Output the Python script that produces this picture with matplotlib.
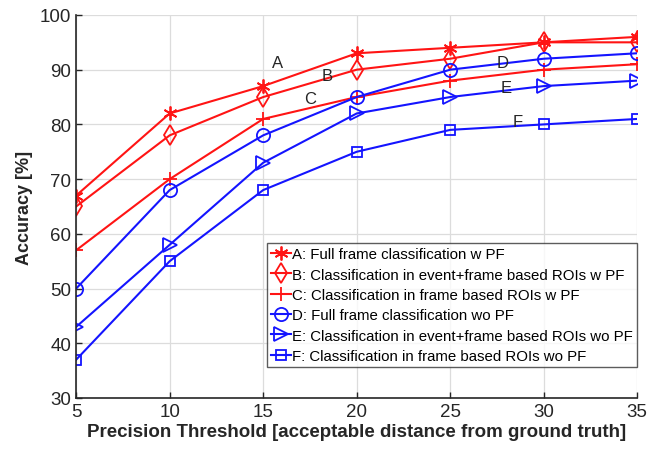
import matplotlib
matplotlib.use("Agg")
import matplotlib.pyplot as plt

plt.rcParams["font.family"] = ["Liberation Sans", "DejaVu Sans"]

THRESHOLDS = [5, 10, 15, 20, 25, 30, 35]
ACC_A = [67, 82, 87, 93, 94, 95, 96]
ACC_B = [65, 78, 85, 90, 92, 95, 95]
ACC_C = [57, 70, 81, 85, 88, 90, 91]
ACC_D = [50, 68, 78, 85, 90, 92, 93]
ACC_E = [43, 58, 73, 82, 85, 87, 88]
ACC_F = [37, 55, 68, 75, 79, 80, 81]

SERIES_LABELS = [
    "A: Full frame classification w PF",
    "B: Classification in event+frame based ROIs w PF",
    "C: Classification in frame based ROIs w PF",
    "D: Full frame classification wo PF",
    "E: Classification in event+frame based ROIs wo PF",
    "F: Classification in frame based ROIs wo PF",
]
TAGS = ["A", "B", "C", "D", "E", "F"]
TAG_POS = [(15.75, 91.4), (18.4, 88.9), (17.5, 84.7), (27.8, 91.4), (28.0, 86.7), (28.6, 80.5)]

RED = "#ff1414"
BLUE = "#1414ff"
TEXT = "#262626"
# colour, marker, marker size
STYLES = [
    (RED, (6, 2, 0), 10),
    (RED, "d", 10),
    (RED, "+", 10),
    (BLUE, "o", 9.5),
    (BLUE, ">", 9.5),
    (BLUE, "s", 7.5),
]


def main() -> None:
    fig = plt.figure(figsize=(6.68, 4.56), dpi=100)
    ax = fig.add_axes([0.114, 0.125, 0.840, 0.840])

    all_series = [ACC_A, ACC_B, ACC_C, ACC_D, ACC_E, ACC_F]
    for values, label, (color, marker, size) in zip(all_series, SERIES_LABELS, STYLES):
        ax.plot(
            THRESHOLDS,
            values,
            color=color,
            marker=marker,
            markersize=size,
            markerfacecolor="none",
            markeredgecolor=color,
            markeredgewidth=1.3,
            linewidth=1.5,
            label=label,
        )

    for tag, (x, y) in zip(TAGS, TAG_POS):
        ax.text(x, y, tag, fontsize=12, ha="center", va="center", color=TEXT)

    ax.set_xlim(5, 35)
    ax.set_ylim(30, 100)
    ax.set_xticks(THRESHOLDS)
    ax.set_yticks(range(30, 101, 10))
    ax.tick_params(labelsize=13.5, direction="in", length=4, width=1,
                   colors=TEXT, labelcolor=TEXT)
    ax.grid(True, color="#dcdcdc", linewidth=0.9)
    ax.set_axisbelow(True)
    for spine in ("top", "right"):
        ax.spines[spine].set_visible(False)
    for spine in ("left", "bottom"):
        ax.spines[spine].set_linewidth(1.2)
        ax.spines[spine].set_color(TEXT)

    ax.set_xlabel("Precision Threshold [acceptable distance from ground truth]",
                  fontsize=13.5, weight="bold", labelpad=2, color=TEXT)
    ax.set_ylabel("Accuracy [%]", fontsize=13, weight="bold", labelpad=5, color=TEXT)

    leg = ax.legend(
        loc="lower right",
        bbox_to_anchor=(1.0, 0.08),
        fontsize=10.8,
        frameon=True,
        fancybox=False,
        edgecolor="#333333",
        handlelength=1.3,
        handletextpad=0.1,
        borderpad=0.3,
        labelspacing=0.42,
        borderaxespad=0.0,
    )
    leg.get_frame().set_linewidth(1.0)

    fig.savefig("out.png", dpi=100, facecolor="white")
    plt.close(fig)


if __name__ == "__main__":
    main()
